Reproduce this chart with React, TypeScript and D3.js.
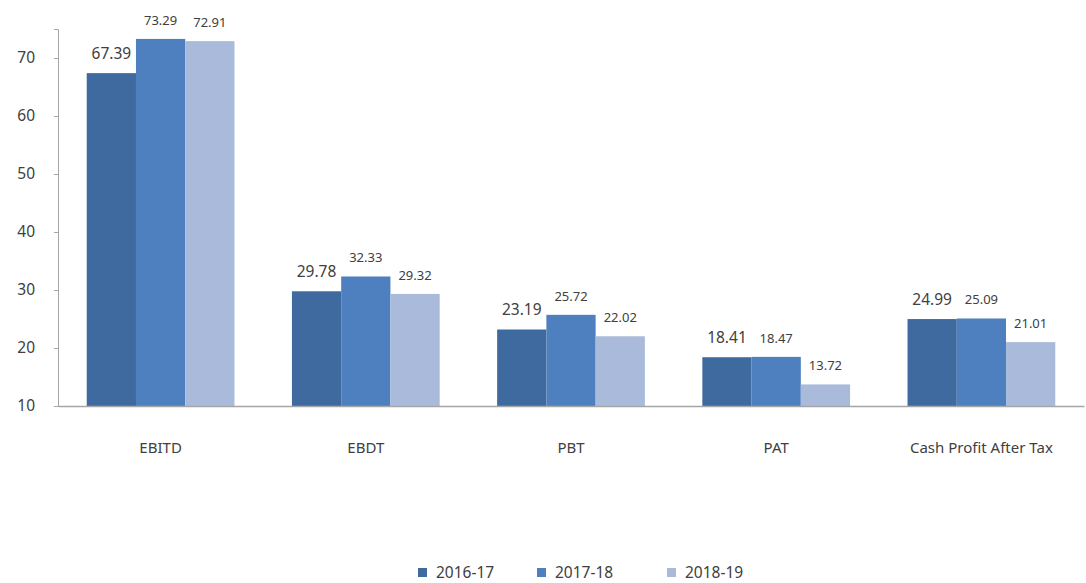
import * as d3 from "d3";
import React from "react";
import { useRef, useEffect } from "react";

// data
const categories = ["EBITD", "EBDT", "PBT", "PAT", "Cash Profit After Tax"];
const years = ["2016-17", "2017-18", "2018-19"];
const values2016 = [67.39, 29.78, 23.19, 18.41, 24.99];
const values2017 = [73.29, 32.33, 25.72, 18.47, 25.09];
const values2018 = [72.91, 29.32, 22.02, 13.72, 21.01];
const yTicks = [10, 20, 30, 40, 50, 60, 70];
const colors = ["#3e6aa0", "#4e80bf", "#a9badb"];

const width = 1086;
const height = 583;
const margin = { top: 29, right: 2, bottom: 177, left: 58 };

const App = () => {
  const ref = useRef(null);

  useEffect(() => {
    const svg = d3.select(ref.current);
    svg.selectAll("*").remove();
    const font = "'Noto Sans', 'Open Sans', sans-serif";

    const series = [values2016, values2017, values2018];
    const drawWidth = width - margin.left - margin.right;
    const drawHeight = height - margin.top - margin.bottom;

    // scales
    const x0 = d3.scaleBand().domain(categories).range([0, drawWidth]).paddingInner(0).paddingOuter(0);
    const x1 = d3.scaleBand().domain(years).range([x0.bandwidth() * 0.14, x0.bandwidth() * 0.86]);
    const y = d3.scaleLinear().domain([10, 75]).range([drawHeight, 0]);

    const g = svg.append("g").attr("transform", `translate(${margin.left},${margin.top})`);

    // bars
    series.forEach((vals, si) => {
      const grp = g.append("g");
      grp.selectAll("rect")
        .data(vals)
        .enter().append("rect")
        .attr("x", (d, i) => x0(categories[i]) + x1(years[si]))
        .attr("y", (d) => y(d))
        .attr("width", x1.bandwidth())
        .attr("height", (d) => drawHeight - y(d))
        .attr("fill", colors[si]);

      grp.selectAll("text")
        .data(vals)
        .enter().append("text")
        .attr("x", (d, i) => x0(categories[i]) + x1(years[si]) + x1.bandwidth() / 2)
        .attr("y", (d) => y(d) - 14)
        .attr("text-anchor", "middle")
        .attr("font-family", font)
        .attr("font-size", si === 0 ? 15.5 : 13)
        .attr("fill", "#404040")
        .text((d) => d.toFixed(2));
    });

    // y axis
    const yAxis = d3.axisLeft(y).tickValues(yTicks).tickSize(4).tickPadding(19);
    const ya = g.append("g").call(yAxis);
    ya.select(".domain").attr("stroke", "#a6a6a6");
    ya.selectAll(".tick line").attr("stroke", "#a6a6a6");
    ya.selectAll(".tick text")
      .attr("font-family", font)
      .attr("font-size", 15.5)
      .attr("fill", "#404040");

    // x axis
    const xAxis = d3.axisBottom(x0).tickSize(0).tickPadding(36);
    const xa = g.append("g").attr("transform", `translate(0,${drawHeight})`).call(xAxis);
    xa.select(".domain").attr("stroke", "#a6a6a6").attr("stroke-width", 1.5);
    xa.selectAll(".tick text")
      .attr("font-family", font)
      .attr("font-size", 15)
      .attr("fill", "#404040");

    // legend
    const legendX = [418, 537, 667];
    const legend = svg.append("g");
    years.forEach((yr, i) => {
      legend.append("rect")
        .attr("x", legendX[i])
        .attr("y", 568)
        .attr("width", 9)
        .attr("height", 9)
        .attr("fill", colors[i]);
      legend.append("text")
        .attr("x", legendX[i] + 18)
        .attr("y", 578)
        .attr("font-family", font)
        .attr("font-size", 15.5)
        .attr("fill", "#404040")
        .text(yr);
    });
  }, []);

  return (
    <svg
      ref={ref}
      width={width}
      height={height}
      style={{ position: "absolute", left: 0, top: 0, background: "#fff" }}
    />
  );
};

export default App;
